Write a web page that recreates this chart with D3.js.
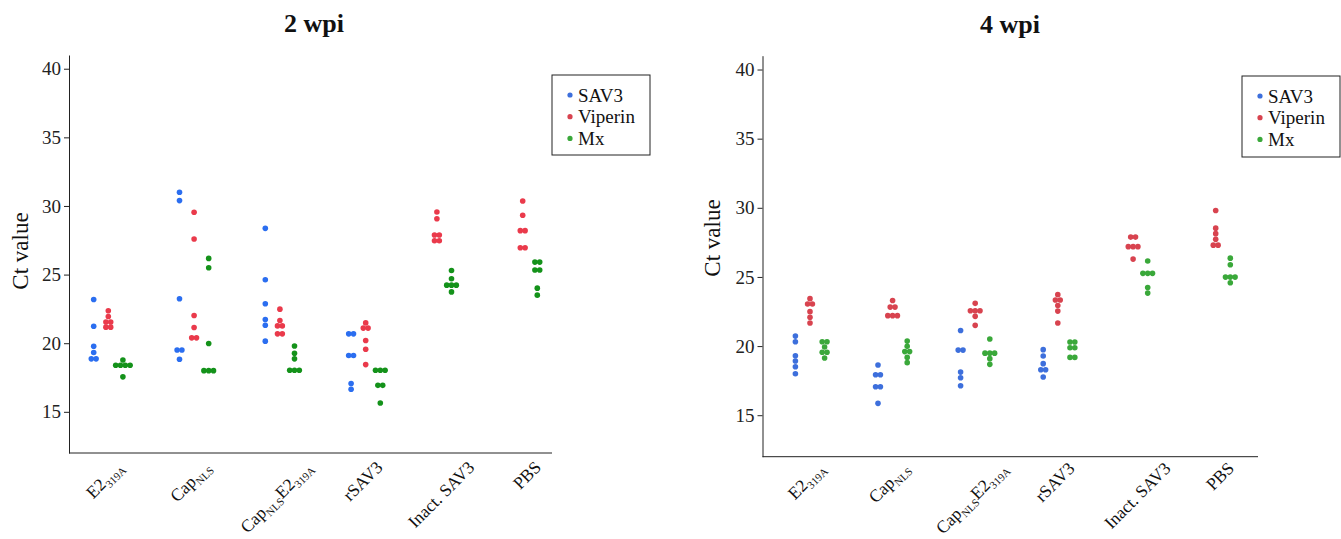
<!DOCTYPE html>
<html>
<head>
<meta charset="utf-8">
<script src="https://cdn.jsdelivr.net/npm/d3@7"></script>
<style>
  html, body { margin: 0; padding: 0; background: #fff; }
  svg { display: block; }
  text { font-family: "Liberation Serif", "Times New Roman", serif; }
</style>
</head>
<body>
<svg id="chart" width="1341" height="539"></svg>
<script>
// Categories: each label is a list of [text, isSubscript] pieces
const categories = ["E2_319A", "Cap_NLS", "Cap_NLS E2_319A", "rSAV3", "Inact. SAV3", "PBS"];
const categoryLabels = [
  [["E2", false], ["319A", true]],
  [["Cap", false], ["NLS", true]],
  [["Cap", false], ["NLS", true], ["E2", false], ["319A", true]],
  [["rSAV3", false]],
  [["Inact. SAV3", false]],
  [["PBS", false]]
];
const seriesNames = ["SAV3", "Viperin", "Mx"];
const yTicks = [15, 20, 25, 30, 35, 40];

// 2 wpi — Ct values per category
const wpi2SAV3 = [
  [23.19, 21.24, 19.78, 19.32, 18.86, 18.86],
  [31.0, 30.39, 23.24, 19.5, 19.5, 18.83],
  [28.37, 24.62, 22.87, 21.73, 21.31, 20.15],
  [20.68, 20.68, 19.1, 19.1, 17.06, 16.64],
  [],
  []
];
const wpi2Viperin = [
  [22.36, 21.95, 21.55, 21.55, 21.17, 21.17],
  [29.54, 27.59, 22.02, 21.14, 20.39, 20.39],
  [22.48, 21.65, 21.26, 21.26, 20.68, 20.68],
  [21.48, 21.1, 21.1, 20.2, 19.56, 18.44],
  [29.56, 29.07, 27.88, 27.88, 27.47, 27.47],
  [30.36, 29.32, 28.2, 28.2, 26.96, 26.96]
];
const wpi2Mx = [
  [18.78, 18.39, 18.39, 18.39, 18.39, 17.55],
  [26.18, 25.5, 19.98, 18.0, 18.0, 18.0],
  [19.8, 19.27, 18.86, 18.03, 18.03, 18.03],
  [18.03, 18.03, 18.03, 16.93, 16.93, 15.64],
  [25.3, 24.7, 24.23, 24.23, 24.23, 23.74],
  [25.91, 25.91, 25.33, 25.33, 24.01, 23.5]
];

// 4 wpi — Ct values per category
const wpi4SAV3 = [
  [20.72, 20.31, 19.3, 18.92, 18.51, 18.0],
  [18.63, 17.93, 17.93, 17.06, 17.06, 15.86],
  [21.13, 19.71, 19.71, 18.12, 17.71, 17.13],
  [19.74, 19.28, 18.73, 18.29, 18.29, 17.76],
  [],
  []
];
const wpi4Viperin = [
  [23.43, 23.04, 23.04, 22.49, 22.08, 21.67],
  [23.3, 22.82, 22.82, 22.2, 22.2, 22.2],
  [23.09, 22.56, 22.56, 22.56, 22.15, 21.5],
  [23.72, 23.33, 23.33, 22.94, 22.53, 21.67],
  [27.88, 27.88, 27.19, 27.19, 27.19, 26.29],
  [29.81, 28.53, 28.13, 27.72, 27.3, 27.3]
];
const wpi4Mx = [
  [20.31, 20.31, 19.93, 19.55, 19.55, 19.14],
  [20.36, 19.98, 19.6, 19.6, 19.18, 18.8],
  [20.51, 19.49, 19.49, 19.49, 19.09, 18.68],
  [20.29, 20.29, 19.88, 19.88, 19.18, 19.18],
  [26.15, 25.26, 25.26, 25.26, 24.24, 23.83],
  [26.36, 25.88, 24.99, 24.99, 24.99, 24.58]
];

const svg = d3.select("#chart");

function drawPanel(cfg) {
  const { title, series, colors, legendColors, x0, x1, xFirst, xLast, yTop, yBottom,
          titleX, titleY, yLabelX, yLabelY, legendBox, centerPairs, labelTop } = cfg;
  const g = svg.append("g");

  const x = d3.scalePoint().domain(categories).range([xFirst, xLast]);
  const y = d3.scaleLinear().domain([12, 41]).range([yBottom, yTop]);
  const dodge = 14.6;
  const swarmStep = 4.8;

  // Title
  g.append("text").attr("x", titleX).attr("y", titleY)
    .attr("text-anchor", "middle").attr("font-size", 26).attr("font-weight", "bold")
    .attr("fill", "#111").text(title);

  // Y axis
  const yAxis = d3.axisLeft(y).tickValues(yTicks).tickSize(5).tickSizeOuter(0).tickPadding(3);
  const ya = g.append("g").attr("transform", `translate(${x0},0)`).call(yAxis);
  ya.select(".domain").attr("stroke", "#222");
  ya.selectAll(".tick line").attr("stroke", "#222");
  ya.selectAll(".tick text").attr("font-family", "Liberation Serif, serif")
    .attr("font-size", 19).attr("fill", "#222");

  // X axis line (no ticks)
  g.append("line").attr("x1", x0).attr("x2", x1).attr("y1", yBottom).attr("y2", yBottom)
    .attr("stroke", "#222");

  // Y title
  g.append("text")
    .attr("transform", `translate(${yLabelX},${yLabelY}) rotate(-90)`)
    .attr("text-anchor", "middle").attr("font-size", 23).attr("fill", "#111")
    .text("Ct value");

  // Points: dodge series within each category, swarm equal values into rows
  categories.forEach((cat, ci) => {
    const present = series.map((s, si) => ({ si, vals: s[ci] })).filter(d => d.vals.length);
    const n = present.length;
    const offsets = present.map((p, k) => (centerPairs ? (k - (n - 1) / 2) : (k - 1)) * dodge);
    present.forEach((p, k) => {
      const cx = x(cat) + offsets[k];
      const rows = d3.groups(p.vals, v => v);
      rows.forEach(([v, members]) => {
        members.forEach((m, j) => {
          g.append("circle")
            .attr("cx", cx + (j - (members.length - 1) / 2) * swarmStep)
            .attr("cy", y(v))
            .attr("r", 2.8)
            .attr("fill", colors[p.si]);
        });
      });
    });

    // Category label, centred under the group and hung from a fixed top line
    const groupCenter = x(cat) + d3.mean(offsets) - 3;
    const lg = g.append("g");
    const t = lg.append("text").attr("transform", "rotate(-45)")
      .attr("font-size", 17.5).attr("fill", "#111");
    let shifted = false;
    categoryLabels[ci].forEach(([txt, sub]) => {
      const ts = t.append("tspan").text(txt);
      if (sub && !shifted) { ts.attr("font-size", 11).attr("dy", 4); shifted = true; }
      else if (sub) { ts.attr("font-size", 11); }
      else if (shifted) { ts.attr("dy", -4); shifted = false; }
    });
    const b = lg.node().getBBox();
    lg.attr("transform", `translate(${groupCenter - (b.x + b.width / 2)},${labelTop - b.y})`);
  });

  // Legend
  const lgd = g.append("g");
  lgd.append("rect").attr("x", legendBox[0]).attr("y", legendBox[1])
    .attr("width", legendBox[2]).attr("height", legendBox[3])
    .attr("fill", "#fff").attr("stroke", "#222").attr("stroke-width", 1);
  seriesNames.forEach((name, i) => {
    const ry = legendBox[1] + 20 + i * 21.7;
    lgd.append("circle").attr("cx", legendBox[0] + 18).attr("cy", ry)
      .attr("r", 2.6).attr("fill", legendColors[i]);
    lgd.append("text").attr("x", legendBox[0] + 26).attr("y", ry + 6.5)
      .attr("font-size", 19).attr("fill", "#111").text(name);
  });
}

const lightColors = ["#3d6fdc", "#d8434f", "#3aa83a"];

drawPanel({
  title: "2 wpi",
  series: [wpi2SAV3, wpi2Viperin, wpi2Mx],
  colors: ["#2b6ef0", "#ea3a4b", "#14921a"],
  legendColors: lightColors,
  x0: 69, x1: 552, xFirst: 108.3, xLast: 537.3, yTop: 55, yBottom: 453,
  titleX: 314, titleY: 32, yLabelX: 28, yLabelY: 251,
  legendBox: [552, 75, 98, 80],
  centerPairs: false,
  labelTop: 457
});

drawPanel({
  title: "4 wpi",
  series: [wpi4SAV3, wpi4Viperin, wpi4Mx],
  colors: lightColors,
  legendColors: lightColors,
  x0: 762.5, x1: 1258, xFirst: 810, xLast: 1223, yTop: 55.7, yBottom: 456.7,
  titleX: 1010, titleY: 33, yLabelX: 720, yLabelY: 238,
  legendBox: [1242, 76, 98, 81],
  centerPairs: true,
  labelTop: 458
});
</script>
</body>
</html>
